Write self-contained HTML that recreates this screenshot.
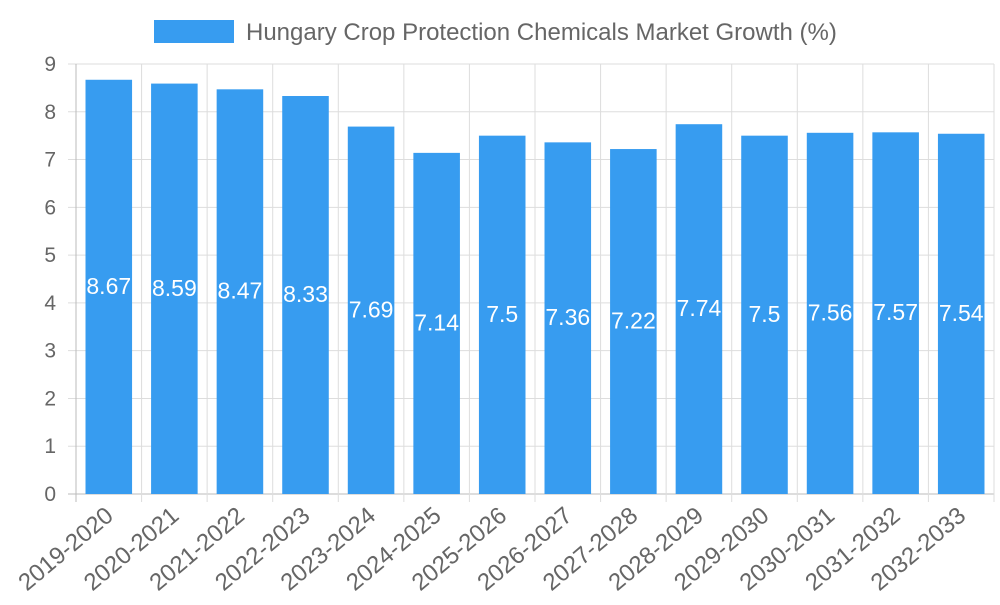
<!DOCTYPE html>
<html><head><meta charset="utf-8"><style>
html,body{margin:0;padding:0;background:#fff;}
svg text{font-family:"Liberation Sans",sans-serif;}
</style></head><body>
<svg id="chart" width="1000" height="600" xmlns="http://www.w3.org/2000/svg">
<g>
<rect x="154" y="20" width="80" height="23" fill="#379cf0"/>
<text x="246" y="40" font-size="24" fill="#666">Hungary Crop Protection Chemicals Market Growth (%)</text>
</g>
<g id="grid"></g><g id="bars"></g><g id="labels"></g>
</svg>
<script>
const categories=["2019-2020","2020-2021","2021-2022","2022-2023","2023-2024","2024-2025","2025-2026","2026-2027","2027-2028","2028-2029","2029-2030","2030-2031","2031-2032","2032-2033"];
const values=[8.67,8.59,8.47,8.33,7.69,7.14,7.5,7.36,7.22,7.74,7.5,7.56,7.57,7.54];
const yTicks=[0,1,2,3,4,5,6,7,8,9];
const NS="http://www.w3.org/2000/svg";
const L=76,R=994,T=64,B=494,yMax=9;
const y=v=>B-(v/yMax)*(B-T);
const step=(R-L)/categories.length;
const x=i=>L+i*step;
function mk(tag,attrs,parent){const e=document.createElementNS(NS,tag);for(const k in attrs)e.setAttribute(k,attrs[k]);parent.appendChild(e);return e;}
const grid=document.getElementById('grid'),bars=document.getElementById('bars'),labels=document.getElementById('labels');
yTicks.forEach(t=>{
 const l=mk('line',{x1:L-8,x2:R,y1:y(t),y2:y(t),stroke:t===0?'#bbb':'#ddd','stroke-width':1},grid);
 
 
 const tx=mk('text',{x:L-20,y:y(t)+7,'text-anchor':'end','font-size':21,fill:'#666'},grid);
 tx.textContent=t;
 
 
});
for(let i=0;i<=categories.length;i++){
 const l=mk('line',{x1:x(i),x2:x(i),y1:T,y2:B+8,stroke:i===0?'#bbb':'#ddd','stroke-width':1},grid);
 
 
}
categories.forEach((c,i)=>{
 const bw=step*0.71,cx=x(i)+step/2;
 const r=mk('rect',{x:cx-bw/2,y:y(values[i]),width:bw,height:B-y(values[i]),fill:'#379cf0'},bars);
 
 
 const v=mk('text',{x:cx,y:(y(values[i])+B)/2+7,'text-anchor':'middle','font-size':23,fill:'#fff'},labels);
 v.textContent=values[i];
 
 
 const ax=cx+6,ay=B+24;
 const tx=mk('text',{x:ax,y:ay,'text-anchor':'end','font-size':24,fill:'#666',transform:`rotate(-40 ${ax} ${ay})`},labels);
 tx.textContent=c;
 
 
});
</script>
</body></html>
